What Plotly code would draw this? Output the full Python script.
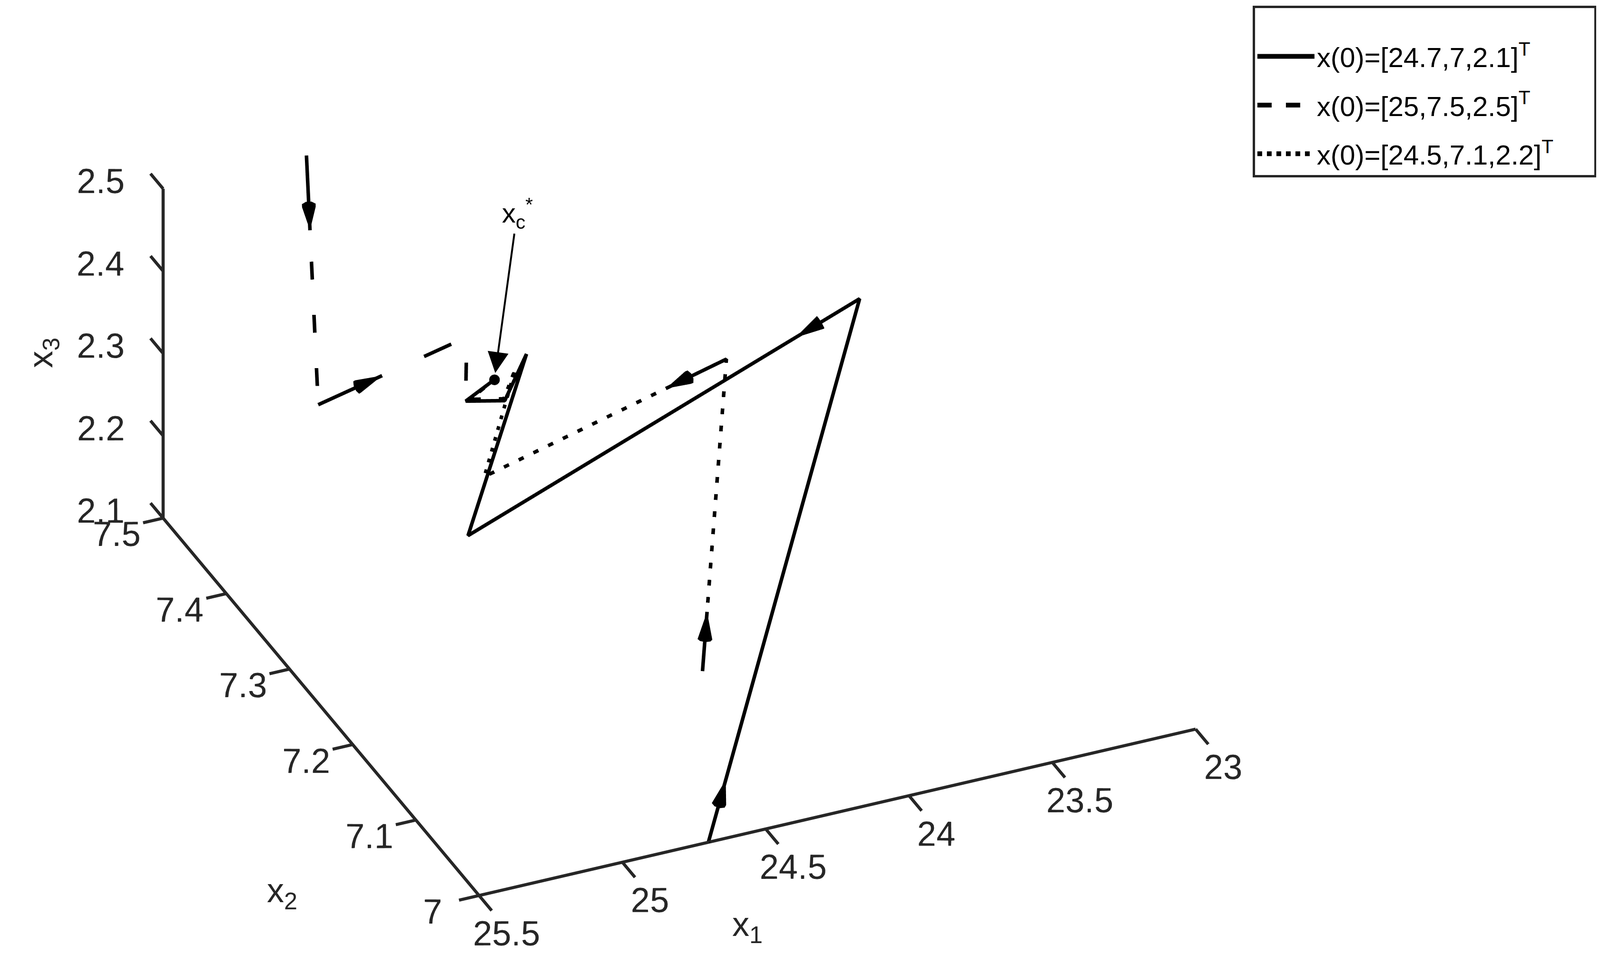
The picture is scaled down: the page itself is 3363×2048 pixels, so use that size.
import numpy as np
import plotly.graph_objects as go

# ---------------- data ----------------
# trajectory 1: x(0) = [24.7, 7, 2.1]^T  (solid)
solid_x1 = [24.7, 23.511, 24.767, 24.607, 24.661, 24.775, 24.675]
solid_x2 = [7.0, 7.30, 7.35, 7.33, 7.34, 7.35, 7.35]
solid_x3 = [2.1, 2.389, 2.157, 2.383, 2.3215, 2.321, 2.339]
# trajectory 2: x(0) = [25, 7.5, 2.5]^T  (dashed)
dashed_x1 = [25.0, 24.959, 24.551, 24.555, 24.675]
dashed_x2 = [7.5, 7.5, 7.45, 7.45, 7.35]
dashed_x3 = [2.5, 2.194, 2.289, 2.211, 2.339]
# trajectory 3: x(0) = [24.5, 7.1, 2.2]^T  (dotted)
dotted_x1 = [24.5, 24.086, 24.71, 24.624, 24.664, 24.760, 24.675]
dotted_x2 = [7.1, 7.25, 7.35, 7.34, 7.34, 7.35, 7.35]
dotted_x3 = [2.2, 2.408, 2.224, 2.357, 2.324, 2.322, 2.339]
# equilibrium x_c^*
xc_x1, xc_x2, xc_x3 = 24.675, 7.35, 2.339

legend_names = ["x(0)=[24.7,7,2.1]<sup>T</sup>",
                "x(0)=[25,7.5,2.5]<sup>T</sup>",
                "x(0)=[24.5,7.1,2.2]<sup>T</sup>" + "\u00a0" * 5]
axis_titles = ["x<sub>1</sub>", "x<sub>2</sub>", "x<sub>3</sub>"]

x1_ticks = [23, 23.5, 24, 24.5, 25, 25.5]
x1_ticklabels = ["23", "23.5", "24", "24.5", "25", "25.5"]
x2_ticks = [7, 7.1, 7.2, 7.3, 7.4, 7.5]
x2_ticklabels = ["7", "7.1", "7.2", "7.3", "7.4", "7.5"]
x3_ticks = [2.1, 2.2, 2.3, 2.4, 2.5]
x3_ticklabels = ["2.1", "2.2", "2.3", "2.4", "2.5"]

# arrows: (segment index, fraction of the segment where the head tip sits)
solid_arrows = [(0, 0.115), (1, 0.164)]
dashed_arrows = [(0, 0.30), (1, 0.43)]
dotted_arrows = [(0, 0.19), (1, 0.25)]

# ---------------- styling ----------------
FONT = "Liberation Sans, Arial, sans-serif"
AX = "#262626"
NB = "\u00a0"
x1_lim = [23, 25.5]
x2_lim = [7, 7.5]
x3_lim = [2.1, 2.5]
TICK_X2 = 0.02   # tick length expressed along x2 (for x1 / x3 ticks)
TICK_X1 = 0.07   # tick length expressed along x1 (for x2 ticks)
# scene ranges padded a little so the drawn axis lines / ticks are not clipped
x1_range = [x1_lim[0] - 0.075, x1_lim[1] + 0.075]
x2_range = [x2_lim[0] - 0.025, x2_lim[1] + 0.025]
x3_range = [x3_lim[0] - 0.006, x3_lim[1] + 0.006]
ZOOM = 1.72
per_unit = dict(x=2.0, y=0.4, z=1.2375)   # scene length per data unit (x=x2, y=x1, z=x3)
aspect = dict(x=ZOOM * per_unit["x"] * (x2_range[1] - x2_range[0]),
              y=ZOOM * per_unit["y"] * (x1_range[1] - x1_range[0]),
              z=ZOOM * per_unit["z"] * (x3_range[1] - x3_range[0]))
LW = 15          # trajectory line width
AXW = 13         # axis line width

# camera: view direction plus a shift of the look-at point along screen "up"
view_dir = np.array([-0.778, 0.343, 0.527])
up_s = np.array([0.0, 0.0, 1.0]) - view_dir[2] * view_dir
up_s = up_s / np.linalg.norm(up_s)
shift = -0.140 * up_s
cam_center = shift
cam_eye = view_dir + shift

sx = aspect["x"] / (x2_range[1] - x2_range[0])
sy = aspect["y"] / (x1_range[1] - x1_range[0])
sz = aspect["z"] / (x3_range[1] - x3_range[0])

# MATLAB aligns tick labels by their edge: emulate with leading no-break spaces
x1_text = [(NB * 5 if "." in s else NB) + s for s in x1_ticklabels]
x2_text = [(NB * 3 if "." not in s else "") + s for s in x2_ticklabels]
x3_text = [NB * 6 + s for s in x3_ticklabels]

fig = go.Figure()

def add_traj(x1, x2, x3, dash):
    fig.add_trace(go.Scatter3d(
        x=x2, y=x1, z=x3, mode="lines", showlegend=False,
        line=dict(color="black", width=LW, dash=dash),
        hoverinfo="skip"))

def add_legend_entry(x1, x2, x3, dash, name):
    # single point: no visible line in the scene, only the legend sample
    fig.add_trace(go.Scatter3d(
        x=x2[:1], y=x1[:1], z=x3[:1], mode="lines", name=name, legendgroup=name,
        line=dict(color="black", width=LW, dash=dash), hoverinfo="skip"))

add_traj(solid_x1, solid_x2, solid_x3, "solid")
add_traj(dashed_x1, dashed_x2, dashed_x3, "longdash")
add_traj(dotted_x1, dotted_x2, dotted_x3, "dash")
add_legend_entry(solid_x1, solid_x2, solid_x3, "solid", legend_names[0])
add_legend_entry(dashed_x1, dashed_x2, dashed_x3, "dash", legend_names[1])
add_legend_entry(dotted_x1, dotted_x2, dotted_x3, "dot", legend_names[2])

cx, cy, cz, cu, cv, cw = [], [], [], [], [], []
for (x1, x2, x3, arrows) in [(solid_x1, solid_x2, solid_x3, solid_arrows),
                             (dashed_x1, dashed_x2, dashed_x3, dashed_arrows),
                             (dotted_x1, dotted_x2, dotted_x3, dotted_arrows)]:
    for seg, f in arrows:
        a = np.array([x2[seg], x1[seg], x3[seg]])
        b = np.array([x2[seg + 1], x1[seg + 1], x3[seg + 1]])
        tip = a + f * (b - a)
        fig.add_trace(go.Scatter3d(
            x=[a[0], tip[0]], y=[a[1], tip[1]], z=[a[2], tip[2]],
            mode="lines", line=dict(color="black", width=LW),
            showlegend=False, hoverinfo="skip"))
        d = b - a
        ds = d * np.array([sx, sy, sz])
        ds = ds / np.linalg.norm(ds)
        cx.append(tip[0]); cy.append(tip[1]); cz.append(tip[2])
        cu.append(ds[0] / sx); cv.append(ds[1] / sy); cw.append(ds[2] / sz)

fig.add_trace(go.Cone(
    x=cx, y=cy, z=cz, u=cu, v=cv, w=cw, anchor="tip",
    sizemode="raw", sizeref=0.065,
    colorscale=[[0, "black"], [1, "black"]], showscale=False,
    lighting=dict(ambient=1.0, diffuse=0.0, specular=0.0, roughness=1.0, fresnel=0.0),
    showlegend=False, hoverinfo="skip"))

fig.add_trace(go.Scatter3d(
    x=[xc_x2], y=[xc_x1], z=[xc_x3], mode="markers",
    marker=dict(color="black", size=13), showlegend=False, hoverinfo="skip"))

# MATLAB-style axis lines and tick marks (drawn on the axis limits / tick values)
def seg3(xa, ya, za, xb, yb, zb):
    fig.add_trace(go.Scatter3d(x=[xa, xb], y=[ya, yb], z=[za, zb], mode="lines",
                               line=dict(color=AX, width=AXW),
                               showlegend=False, hoverinfo="skip"))

x1_lo, x1_hi = x1_lim
x2_lo, x2_hi = x2_lim
x3_lo, x3_hi = x3_lim
seg3(x2_lo, x1_hi, x3_lo, x2_lo, x1_lo, x3_lo)          # x1 axis
seg3(x2_lo, x1_hi, x3_lo, x2_hi, x1_hi, x3_lo)          # x2 axis
seg3(x2_hi, x1_hi, x3_lo, x2_hi, x1_hi, x3_hi)          # x3 axis
for t in x1_ticks:
    seg3(x2_lo, t, x3_lo, x2_lo - TICK_X2, t, x3_lo)
for t in x2_ticks:
    seg3(t, x1_hi, x3_lo, t, x1_hi + TICK_X1, x3_lo)
for t in x3_ticks:
    seg3(x2_hi, x1_hi, t, x2_hi + TICK_X2, x1_hi, t)

axis_common = dict(
    showgrid=False, zeroline=False, showbackground=False, showspikes=False,
    showline=False, ticks="outside", tickwidth=1,
    tickcolor="rgba(0,0,0,0)", tickangle=0,
    tickfont=dict(family=FONT, size=29.5, color=AX),
    autorange=False, title=dict(text=""),
)
title_font = dict(family=FONT, size=72, color=AX)

fig.update_layout(
    width=3363, height=2048,
    paper_bgcolor="white", plot_bgcolor="white",
    margin=dict(l=0, r=0, t=0, b=0),
    font=dict(family=FONT, color="black"),
    showlegend=True,
    legend=dict(x=0.9955, xanchor="right", y=0.998, yanchor="top",
                bgcolor="white", bordercolor=AX, borderwidth=5,
                font=dict(family=FONT, size=58, color="black"),
                title=dict(text="\u00a0", font=dict(size=44)),
                itemwidth=120, traceorder="grouped", tracegroupgap=24),
    scene=dict(
        domain=dict(x=[0.0, 0.8444], y=[0.0, 0.9346]),
        xaxis=dict(axis_common, range=x2_range, tickvals=x2_ticks,
                   ticktext=x2_text, ticklen=42),
        yaxis=dict(axis_common, range=x1_range, tickvals=x1_ticks,
                   ticktext=x1_text, ticklen=40),
        zaxis=dict(axis_common, range=x3_range, tickvals=x3_ticks,
                   ticktext=x3_text, ticklen=24),
        aspectmode="manual", aspectratio=aspect,
        camera=dict(eye=dict(x=cam_eye[0], y=cam_eye[1], z=cam_eye[2]),
                    up=dict(x=0, y=0, z=1),
                    center=dict(x=cam_center[0], y=cam_center[1], z=cam_center[2]),
                    projection=dict(type="orthographic")),
        annotations=[dict(
            x=xc_x2, y=xc_x1, z=xc_x3,
            text="x<sub>c</sub><sup>*</sup>", showarrow=True,
            arrowhead=2, arrowsize=2.2, arrowwidth=4, arrowcolor="black",
            ax=48, ay=-350, standoff=14,
            font=dict(family=FONT, size=58, color="black"))],
    ),
    annotations=[
        dict(text=axis_titles[0], x=0.4649, y=0.0292, xref="paper", yref="paper",
             showarrow=False, font=title_font),
        dict(text=axis_titles[1], x=0.1639, y=0.0638, xref="paper", yref="paper",
             showarrow=False, font=title_font),
        dict(text=axis_titles[2], x=0.0103, y=0.6418, xref="paper", yref="paper",
             showarrow=False, font=title_font, textangle=-90),
    ],
)

fig.write_html("out.html", config={"displayModeBar": False})
